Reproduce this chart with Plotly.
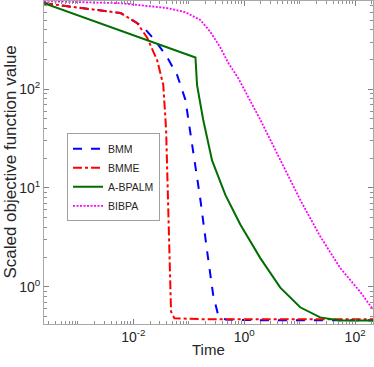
import numpy as np
import plotly.graph_objects as go

# values (time, scaled objective), log-log
bmm_t = [2.45e-4, 5.9e-3, 1.5e-2, 2.5e-2, 4.1e-2, 6.2e-2, 8.7e-2, 0.12, 0.162, 0.214, 0.275, 0.34, 0.46, 1.0, 10.0, 210.0]
bmm_v = [741, 589, 427, 309, 209, 138, 78, 24, 7.6, 2.3, 0.83, 0.51, 0.467, 0.46, 0.458, 0.457]

bmme_t = [2.45e-4, 5.9e-3, 1.17e-2, 1.78e-2, 2.7e-2, 3.47e-2, 3.9e-2, 4.27e-2, 4.68e-2, 4.79e-2, 5.5e-2, 0.16, 1.0, 10.0, 210.0]
bmme_v = [741, 589, 468, 331, 195, 110, 39, 7.6, 1.17, 0.56, 0.48, 0.47, 0.468, 0.468, 0.468]

abpalm_t = [2.45e-4, 0.132, 0.141, 0.182, 0.263, 0.457, 0.85, 1.95, 4.47, 10.2, 23.4, 53.7, 210.0]
abpalm_v = [741, 209, 110, 49, 19, 8.5, 4.27, 1.95, 0.98, 0.62, 0.49, 0.457, 0.455]

bibpa_t = [2.45e-4, 2.6e-3, 5.9e-3, 2.0e-2, 4.1e-2, 8.7e-2, 0.162, 0.245, 0.372, 0.51, 0.78, 1.95, 4.47, 10.2, 23.4, 53.7, 123.0, 210.0]
bibpa_v = [776, 759, 741, 690, 661, 600, 501, 380, 263, 186, 129, 49, 19, 7.6, 3.24, 1.55, 0.89, 0.59]

x_ticks = [1e-2, 1, 1e2]
x_labels = ['10<sup>-2</sup>', '10<sup>0</sup>', '10<sup>2</sup>']
y_ticks = [1, 10, 100]
y_labels = ['10<sup>0</sup>', '10<sup>1</sup>', '10<sup>2</sup>']

fig = go.Figure()
fig.add_trace(go.Scatter(x=bmm_t, y=bmm_v, mode='lines', name='BMM',
                         line=dict(color='rgb(0,0,255)', width=2, dash='dash')))
fig.add_trace(go.Scatter(x=bmme_t, y=bmme_v, mode='lines', name='BMME',
                         line=dict(color='rgb(255,0,0)', width=2, dash='dashdot')))
fig.add_trace(go.Scatter(x=abpalm_t, y=abpalm_v, mode='lines', name='A-BPALM',
                         line=dict(color='rgb(0,110,0)', width=2)))
fig.add_trace(go.Scatter(x=bibpa_t, y=bibpa_v, mode='lines', name='BIBPA',
                         line=dict(color='rgb(255,0,255)', width=1.8, dash='2px,1.5px')))

axis_style = dict(
    type='log', showgrid=False, zeroline=False, showline=True, mirror='allticks',
    linecolor='#a8a8a8', linewidth=1, ticks='inside', ticklen=5, tickcolor='#808080',
    tickfont=dict(size=14, color='#262626'), automargin=False,
    minor=dict(ticks='inside', ticklen=3, tickcolor='#909090', showgrid=False, dtick='D1'),
)

fig.update_xaxes(**axis_style, range=[np.log10(2.45e-4), np.log10(210)],
                 tickmode='array', tickvals=x_ticks, ticktext=x_labels)
fig.update_yaxes(**axis_style, range=[np.log10(0.42), np.log10(780)],
                 tickmode='array', tickvals=y_ticks, ticktext=y_labels)

fig.add_annotation(text='Time', xref='paper', yref='paper', x=0.5, y=-0.08,
                   xanchor='center', yanchor='middle', showarrow=False,
                   font=dict(size=15, color='#262626'))
fig.add_annotation(text='Scaled objective function value', xref='paper', yref='paper',
                   x=-0.103, y=0.5, textangle=-90, xanchor='center', yanchor='middle',
                   showarrow=False, font=dict(size=17, color='#262626'))

fig.update_layout(
    width=374, height=367,
    margin=dict(l=44, r=1, t=1, b=43, autoexpand=False),
    paper_bgcolor='white', plot_bgcolor='white',
    font=dict(family='Liberation Sans, Arial, sans-serif', color='#262626'),
    legend=dict(x=0.07, y=0.454, xanchor='left', yanchor='middle',
                bgcolor='white', bordercolor='#a0a0a0', borderwidth=1,
                font=dict(size=10.5, color='#262626'), tracegroupgap=0, itemwidth=30),
    showlegend=True,
)

# page body has an 8px default margin; drop it so the figure sits at the window corner
fig.write_html("out.html", config={'displayModeBar': False},
               post_script="document.body.style.margin='0';")
